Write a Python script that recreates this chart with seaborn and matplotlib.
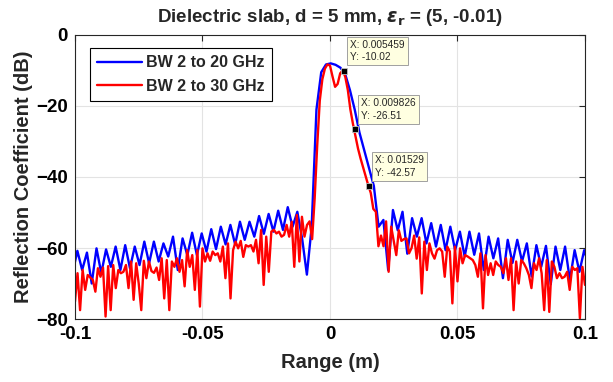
import numpy as np
import matplotlib
matplotlib.use('Agg')
import matplotlib.pyplot as plt
import seaborn as sns

# reflection coefficient (dB), one value per range bin
blue_db = [-67.0, -60.8, -66.2, -61.3, -70.0, -60.1, -67.1, -60.4, -65.3, -59.6,
           -66.2, -59.2, -65.7, -59.6, -64.8, -58.2, -64.3, -58.2, -63.8, -58.7,
           -62.4, -56.8, -66.2, -57.3, -62.0, -55.7, -62.0, -55.9, -61.0, -54.7,
           -60.3, -54.0, -59.0, -53.5, -59.0, -52.6, -57.7, -52.6, -56.8, -51.0,
           -56.0, -50.4, -55.4, -49.5, -54.9, -48.5, -54.0, -49.8, -57.3, -67.5,
           -54.0, -21.0, -10.5, -8.3, -8.0, -8.4, -9.2, -11.0, -15.5, -21.0,
           -27.5, -32.5, -37.5, -42.5, -54.0, -52.1, -66.2, -49.3, -55.0, -49.8,
           -61.6, -51.6, -56.8, -51.6, -58.7, -53.0, -59.6, -53.5, -60.6, -54.0,
           -60.6, -55.4, -62.4, -55.4, -61.9, -55.9, -66.2, -56.8, -62.9, -57.3,
           -68.5, -57.7, -64.2, -57.7, -63.8, -58.7, -68.0, -59.2, -65.3, -59.4,
           -70.2, -59.6, -66.2, -59.6, -69.0, -60.6, -66.7, -60.6, -65.0]

red_db = [-75.1, -67.1, -77.5, -66.2, -71.8, -67.6, -68.3, -69.0, -72.3, -65.7,
          -68.1, -65.5, -79.3, -65.1, -77.5, -64.8, -71.3, -66.2, -67.1, -66.7,
          -64.8, -71.3, -63.8, -74.6, -64.3, -70.0, -77.5, -63.6, -68.5, -63.8,
          -66.5, -67.0, -65.5, -69.0, -62.9, -74.2, -63.4, -77.5, -63.8, -65.3,
          -62.9, -66.7, -63.4, -70.8, -60.6, -65.3, -62.0, -71.8, -60.6, -76.5,
          -60.1, -63.8, -61.5, -63.6, -61.0, -62.0, -61.5, -63.8, -59.6, -68.5,
          -58.7, -74.2, -60.6, -58.2, -60.1, -58.0, -62.5, -59.2, -59.6, -59.2,
          -61.0, -57.7, -64.3, -54.9, -70.4, -56.8, -66.7, -55.4, -54.9, -55.9,
          -55.4, -56.8, -56.3, -53.5, -56.8, -52.6, -65.3, -50.7, -63.8, -51.2,
          -56.8, -53.5, -52.5, -57.5, -46.0, -31.0, -18.5, -12.5, -9.5, -8.3,
          -8.6, -11.7, -14.6, -13.8, -10.8, -10.0, -11.8, -15.5, -21.0, -25.0,
          -28.5, -32.0, -34.8, -37.3, -39.9, -42.3, -44.5, -49.0, -49.8, -59.5,
          -56.5, -59.5, -52.5, -66.7, -54.0, -58.0, -62.0, -55.0, -58.0, -57.5,
          -57.3, -61.5, -60.0, -56.5, -63.0, -57.0, -72.8, -58.2, -66.2, -58.7,
          -61.5, -63.0, -60.6, -60.1, -61.0, -68.1, -59.6, -61.0, -75.6, -59.6,
          -69.4, -60.1, -64.3, -62.0, -62.4, -62.9, -63.4, -64.8, -68.1, -61.5,
          -77.0, -62.0, -67.6, -64.3, -67.6, -63.8, -64.8, -65.3, -67.1, -62.9,
          -69.0, -62.9, -77.5, -63.8, -70.0, -63.4, -64.3, -65.7, -67.6, -71.3,
          -64.3, -66.2, -62.9, -67.1, -77.5, -63.4, -78.0, -63.8, -65.3, -68.5,
          -67.1, -68.5, -68.1, -66.7, -71.8, -65.3, -66.2, -65.7, -79.8, -65.3,
          -70.4]

# range bins (uniform)
blue_range = np.linspace(-0.10093, 0.10157, len(blue_db))
red_range = np.linspace(-0.1, 0.1, len(red_db))

# data tips shown on the plot
tip_x = [0.005459, 0.009826, 0.01529]
tip_y = [-10.02, -26.51, -42.57]

sns.set_style('white')
plt.rcParams['font.family'] = ['Liberation Sans', 'DejaVu Sans']
plt.rcParams['font.weight'] = 'bold'

fig = plt.figure(figsize=(6.13, 3.82), dpi=100)
ax = fig.add_axes([0.1223, 0.1649, 0.832, 0.7435])

sns.lineplot(x=blue_range, y=blue_db, color='blue', lw=1.7, estimator=None,
             sort=False, label='BW 2 to 20 GHz', ax=ax)
sns.lineplot(x=red_range, y=red_db, color='red', lw=1.7, estimator=None,
             sort=False, label='BW 2 to 30 GHz', ax=ax)

ax.plot(tip_x, tip_y, 's', color='black', ms=5, mec='0.75', mew=0.6, zorder=5)
for tx, ty in zip(tip_x, tip_y):
    ax.annotate('X: {}\nY: {:.2f}'.format(tx, ty), xy=(tx, ty), xytext=(4.5, 6.0),
                textcoords='offset points', ha='left', va='bottom', fontsize=7.3,
                fontweight='normal', color='#262626', linespacing=1.3, zorder=6,
                bbox=dict(boxstyle='square,pad=0.32', fc='#ffffe1', ec='#a0a0a0', lw=0.7))

ax.set_xlim(-0.1, 0.1)
ax.set_ylim(-80, 0)
ax.set_xticks([-0.1, -0.05, 0, 0.05, 0.1])
ax.set_xticklabels(['-0.1', '-0.05', '0', '0.05', '0.1'])
ax.set_yticks([-80, -60, -40, -20, 0])
ax.grid(True, color='#e3e3e3', lw=0.8)
ax.set_axisbelow(True)
for s in ax.spines.values():
    s.set_color('#262626')
    s.set_linewidth(0.8)
ax.tick_params(direction='in', length=4, width=0.8, top=True, right=True,
               labelsize=13.5, colors='#262626', labelcolor='black', pad=5)
for lab in ax.get_xticklabels() + ax.get_yticklabels():
    lab.set_fontweight('bold')

ax.set_xlabel('Range (m)', fontsize=14.5, fontweight='bold', labelpad=7)
ax.set_ylabel('Reflection Coefficient (dB)', fontsize=14.5, fontweight='bold', labelpad=2)
ax.set_title(r'Dielectric slab, d = 5 mm, $\epsilon_{\mathbf{r}}$ = (5, -0.01)',
             fontsize=13.5, fontweight='bold', pad=9)

leg = ax.legend(loc='upper left', bbox_to_anchor=(0.029, 0.954), fontsize=11.5,
                frameon=True, fancybox=False, framealpha=1, edgecolor='black',
                handlelength=2.8, borderpad=0.45, labelspacing=0.55, handletextpad=0.3,
                borderaxespad=0)
leg.get_frame().set_linewidth(0.8)
for t in leg.get_texts():
    t.set_fontweight('bold')

fig.savefig('out.png', dpi=100)
